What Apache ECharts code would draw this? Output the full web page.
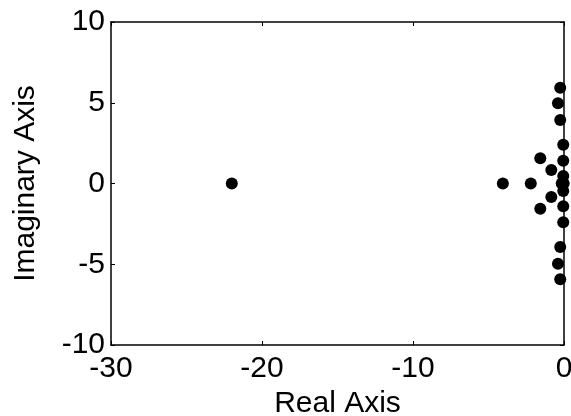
<!DOCTYPE html>
<html>
<head>
<meta charset="utf-8">
<script src="https://cdn.jsdelivr.net/npm/echarts@6/dist/echarts.min.js"></script>
<style>html,body{margin:0;padding:0;background:#fff}#c{width:571px;height:416px}</style>
</head>
<body>
<div id="c"></div>
<script>
const realParts = [-22, -4.05, -2.2, -0.15, -0.02, -0.25, -0.25, -0.4, -0.4, -0.25, -0.25, -0.05, -0.05, -1.57, -1.57, -0.05, -0.05, -0.84, -0.84, -0.05, -0.05];
const imagParts = [0, 0, 0, 0, 0, 5.93, -5.93, 4.97, -4.97, 3.93, -3.93, 2.4, -2.4, 1.56, -1.56, 1.41, -1.41, 0.84, -0.84, 0.46, -0.46];
const xTicks = [-30, -20, -10, 0];
const yTicks = [-10, -5, 0, 5, 10];

const font = 'Liberation Sans, Arial, Helvetica, sans-serif';
const points = realParts.map((r, i) => [r, imagParts[i]]);
const chart = echarts.init(document.getElementById('c'), null, {renderer: 'canvas'});
const axisCommon = {
  type: 'value',
  splitLine: {show: false},
  axisLine: {show: true, onZero: false, lineStyle: {color: '#000', width: 1.5}},
  axisTick: {show: true, inside: true, length: 4, lineStyle: {color: '#000'}}
};
chart.setOption({
  animation: false,
  backgroundColor: '#fff',
  grid: {left: 111, right: 7, top: 22, bottom: 71, show: false, containLabel: false, outerBoundsMode: 'none'},
  xAxis: [
    Object.assign({}, axisCommon, {
      position: 'bottom', min: xTicks[0], max: xTicks[xTicks.length - 1], interval: 10,
      name: 'Real Axis', nameLocation: 'middle', nameGap: 35,
      nameTextStyle: {color: '#000', fontSize: 30, fontFamily: font},
      axisLabel: {color: '#000', fontSize: 30, fontFamily: font, margin: 9, hideOverlap: false}
    }),
    Object.assign({}, axisCommon, {
      position: 'top', min: xTicks[0], max: xTicks[xTicks.length - 1], interval: 10,
      axisLabel: {show: false}
    })
  ],
  yAxis: [
    Object.assign({}, axisCommon, {
      position: 'left', min: yTicks[0], max: yTicks[yTicks.length - 1], interval: 5,
      name: 'Imaginary Axis', nameLocation: 'middle', nameGap: 70,
      nameTextStyle: {color: '#000', fontSize: 30, fontFamily: font},
      axisLabel: {color: '#000', fontSize: 30, fontFamily: font, margin: 6, hideOverlap: false}
    }),
    Object.assign({}, axisCommon, {
      position: 'right', min: yTicks[0], max: yTicks[yTicks.length - 1], interval: 5,
      axisLabel: {show: false}
    })
  ],
  series: [{
    type: 'scatter',
    data: points,
    symbolSize: 12,
    itemStyle: {color: '#000', opacity: 1},
    clip: false
  }]
});
</script>
</body>
</html>
